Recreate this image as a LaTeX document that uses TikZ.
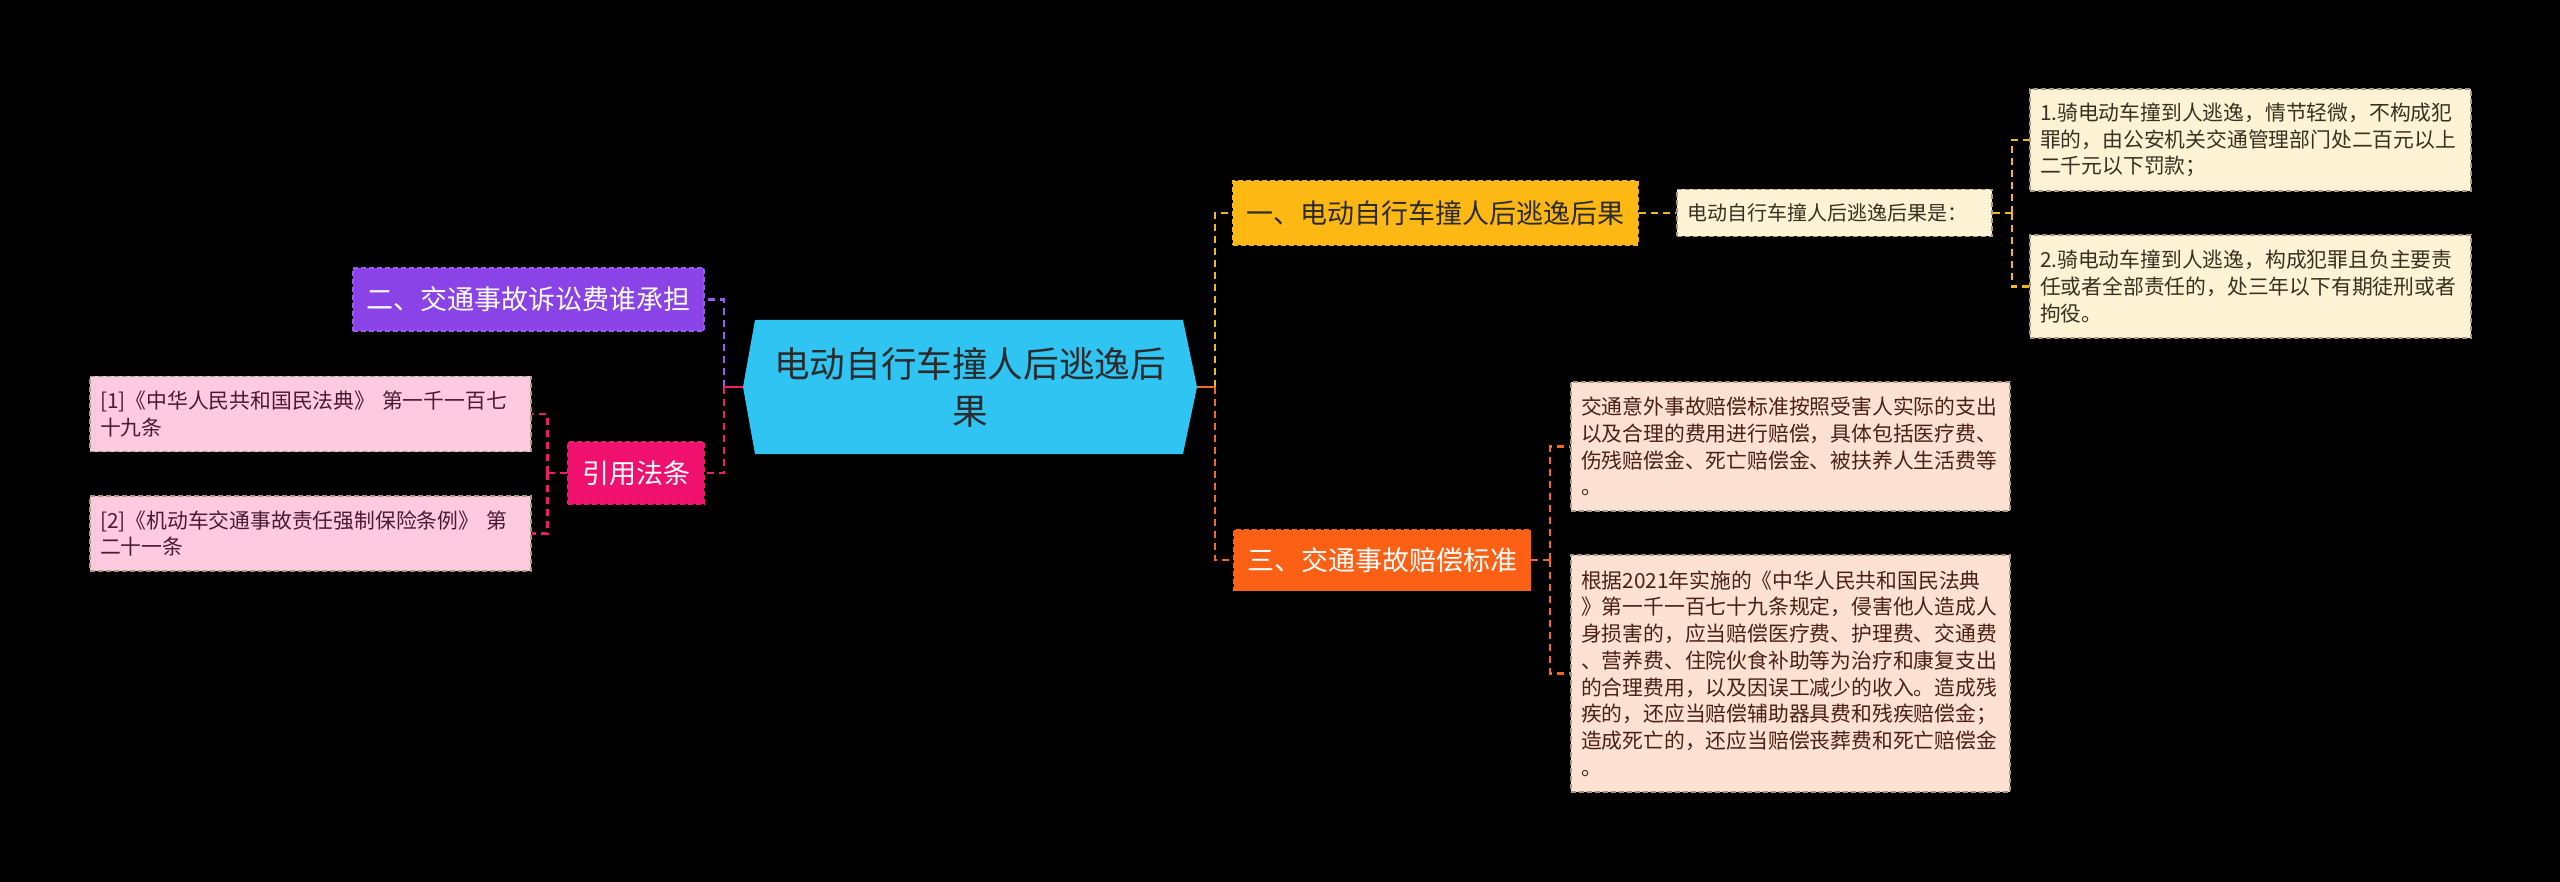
\documentclass[tikz,border=0pt]{standalone}
\usepackage{fontspec}
\setmainfont{Noto Sans CJK SC}
\definecolor{cfill}{HTML}{2FC4F2}
\definecolor{ctext}{HTML}{2B2B2B}
\definecolor{pfill}{HTML}{8A43E6}
\definecolor{pline}{HTML}{9B5BEE}
\definecolor{mfill}{HTML}{F0106E}
\definecolor{mline}{HTML}{EC1C6E}
\definecolor{yfill}{HTML}{FDB813}
\definecolor{yline}{HTML}{F2B620}
\definecolor{ofill}{HTML}{FB6015}
\definecolor{oline}{HTML}{F06A22}
\definecolor{creamfill}{HTML}{FEF3D4}
\definecolor{pinkfill}{HTML}{FDCAE0}
\definecolor{peachfill}{HTML}{FDE1D3}
\definecolor{leafborder}{HTML}{A89880}
\definecolor{creamtext}{HTML}{3A3020}
\definecolor{pinktext}{HTML}{4A1A32}
\definecolor{peachtext}{HTML}{4A2214}
\tikzset{
  box/.style={inner sep=0pt, line width=1.4pt, dash pattern=on 5pt off 3pt},
  topic/.style={box, font=\fontsize{27}{34}\selectfont, align=center},
  leafbox/.style={box, draw=leafborder, inner xsep=10pt, inner ysep=0pt,
    font=\fontsize{20.8}{26.7}\selectfont, align=left},
  link/.style={line width=2.4pt, dash pattern=on 7pt off 5pt},
  stub/.style={line width=2.4pt},
}
\begin{document}
\begin{tikzpicture}[x=1pt,y=-1pt]
\fill[black] (0,0) rectangle (2560,882);
\useasboundingbox (0,0) rectangle (2560,882);
% central hexagon
\coordinate (cc) at (970,387);
\fill[cfill] ([shift={(-227,0)}]cc) -- ([shift={(-215,-67)}]cc) -- ([shift={(213,-67)}]cc)
  -- ([shift={(227,0)}]cc) -- ([shift={(213,67)}]cc) -- ([shift={(-215,67)}]cc) -- cycle;
\node[inner sep=0pt, minimum width=454pt, minimum height=134pt, align=center,
  text=ctext, font=\fontsize{35.6}{47}\selectfont] (c) at (cc) {电动自行车撞人后逃逸后\\果};
% left topics
\node[topic, fill=pfill, draw=pline, text=white, minimum width=351pt, minimum height=63pt] (p) at (528.5,299.5) {二、交通事故诉讼费谁承担};
\node[topic, fill=mfill, draw=mline, text=white, minimum width=136pt, minimum height=62pt] (r) at (636,473) {引用法条};
\node[leafbox, fill=pinkfill, text=pinktext, text width=421pt, minimum height=75pt] (l1) at (310.5,414) {[1]《中华人民共和国民法典》 第一千一百七\\十九条};
\node[leafbox, fill=pinkfill, text=pinktext, text width=421pt, minimum height=75pt] (l2) at (310.5,533.5) {[2]《机动车交通事故责任强制保险条例》 第\\二十一条};
% right topics
\node[topic, fill=yfill, draw=yline, text=ctext, minimum width=405pt, minimum height=64pt] (y) at (1435.5,213) {一、电动自行车撞人后逃逸后果};
\node[leafbox, fill=creamfill, text=creamtext, text width=295pt, minimum height=47pt, font=\fontsize{20}{26}\selectfont] (k) at (1834.5,213) {电动自行车撞人后逃逸后果是：};
\node[leafbox, fill=creamfill, text=creamtext, text width=421pt, minimum height=102pt] (a) at (2250.5,140) {1.骑电动车撞到人逃逸，情节轻微，不构成犯\\罪的，由公安机关交通管理部门处二百元以上\\二千元以下罚款；};
\node[leafbox, fill=creamfill, text=creamtext, text width=421pt, minimum height=103pt] (b) at (2250.5,286.5) {2.骑电动车撞到人逃逸，构成犯罪且负主要责\\任或者全部责任的，处三年以下有期徒刑或者\\拘役。};
\node[topic, fill=ofill, draw=oline, text=white, minimum width=297pt, minimum height=61pt] (o) at (1382,560) {三、交通事故赔偿标准};
\node[leafbox, fill=peachfill, text=peachtext, text width=419pt, minimum height=129pt] (lc) at (1790.5,446.5) {交通意外事故赔偿标准按照受害人实际的支出\\以及合理的费用进行赔偿，具体包括医疗费、\\伤残赔偿金、死亡赔偿金、被扶养人生活费等\\。};
\node[leafbox, fill=peachfill, text=peachtext, text width=419pt, minimum height=237pt] (ld) at (1790.5,673.5) {根据2021年实施的《中华人民共和国民法典\\》第一千一百七十九条规定，侵害他人造成人\\身损害的，应当赔偿医疗费、护理费、交通费\\、营养费、住院伙食补助等为治疗和康复支出\\的合理费用，以及因误工减少的收入。造成残\\疾的，还应当赔偿辅助器具费和残疾赔偿金；\\造成死亡的，还应当赔偿丧葬费和死亡赔偿金\\。};
% connectors left
\coordinate (lj) at ([xshift=-19pt]c.west);
\draw[link, pline] (lj) |- (p.east);
\draw[link, mline] (lj) |- (r.east);
\draw[stub, mline] (c.west) -- (lj);
\coordinate (lk) at ([xshift=-20pt]r.west);
\draw[link, mline] (r.west) -- (lk);
\draw[link, mline] (lk) |- (l1.east);
\draw[link, mline] (lk) |- (l2.east);
% connectors right
\coordinate (rj) at ([xshift=18pt]c.east);
\draw[link, yline] (rj) |- (y.west);
\draw[link, oline] (rj) |- (o.west);
\draw[stub, oline] (c.east) -- (rj);
\draw[link, yline] (y.east) -- (k.west);
\coordinate (kj) at ([xshift=19pt]k.east);
\draw[link, yline] (k.east) -- (kj);
\draw[link, yline] (kj) |- (a.west);
\draw[link, yline] (kj) |- (b.west);
\coordinate (oj) at ([xshift=19pt]o.east);
\draw[link, oline] (o.east) -- (oj);
\draw[link, oline] (oj) |- (lc.west);
\draw[link, oline] (oj) |- (ld.west);
\end{tikzpicture}
\end{document}
